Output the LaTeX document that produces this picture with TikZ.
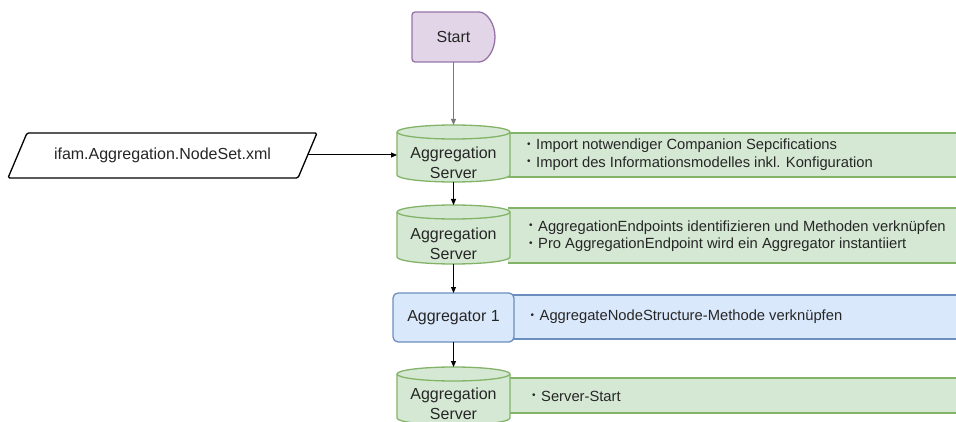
\documentclass[tikz,border=0pt]{standalone}
\usepackage{fontspec}
\setmainfont{Liberation Sans}
\usetikzlibrary{arrows.meta,calc}

\definecolor{grnfill}{HTML}{D5E8D4}
\definecolor{grnline}{HTML}{82B366}
\definecolor{blufill}{HTML}{DAE8FC}
\definecolor{bluline}{HTML}{6C8EBF}
\definecolor{purfill}{HTML}{E1D5E7}
\definecolor{purline}{HTML}{9673A6}
\definecolor{txtcol}{HTML}{262626}
\definecolor{arrgray}{HTML}{7A7A7A}

% small list bullet
\newcommand\blt{\makebox[9pt][l]{\raisebox{2.2pt}{\fontsize{10}{10}\selectfont •}}}

% cylinder outline drawn around an (invisible) boundary node
\newcommand\cylbody[1]{%
  \filldraw[cylline] ([yshift=-7pt]#1.north west) -- ([yshift=7pt]#1.south west)
    arc[start angle=180,end angle=360,x radius=56.5pt,y radius=7pt]
    -- ([yshift=-7pt]#1.north east)
    arc[start angle=0,end angle=180,x radius=56.5pt,y radius=7pt] -- cycle;
  \draw[cylline,fill=none] ([yshift=-7pt]#1.north west)
    arc[start angle=180,end angle=360,x radius=56.5pt,y radius=7pt];}

% border of a description bar, open on the side tucked under its shape
\newcommand\barrim[2]{%
  \draw[#2, line width=1.3pt] (#1.north west) -- (#1.north east) -- (#1.south east) -- (#1.south west);}

\begin{document}
\begin{tikzpicture}[x=1pt,y=1pt,
  every node/.style={text=txtcol},
  lbl/.style={font=\fontsize{16}{20}\selectfont, align=center, inner sep=0pt},
  itemtxt/.style={font=\fontsize{14.75}{17.5}\selectfont, align=left, inner sep=0pt, anchor=west},
  bound/.style={inner sep=0pt, outer sep=0pt, minimum width=113pt},
  cylline/.style={draw=grnline, fill=grnfill, line width=1.3pt},
  barbase/.style={anchor=south west, inner sep=0pt, outer sep=0pt},
  greenbar/.style={barbase, fill=grnfill},
  bluebar/.style={barbase, fill=blufill},
  flow/.style={line width=1pt, -{Triangle[length=6pt,width=5pt]}}]

\useasboundingbox (0,0) rectangle (956,421);

% description bars (behind the process shapes)
\node[greenbar, minimum width=452pt, minimum height=44pt] (bar1) at (508,244) {};
\barrim{bar1}{grnline}
\node[greenbar, minimum width=452pt, minimum height=55pt] (bar2) at (508,158) {};
\barrim{bar2}{grnline}
\node[bluebar,  minimum width=448pt, minimum height=44pt] (bar3) at (512,82) {};
\barrim{bar3}{bluline}
\node[greenbar, minimum width=452pt, minimum height=35pt] (bar4) at (508,8) {};
\barrim{bar4}{grnline}

% start terminal
\filldraw[draw=purline, fill=purfill, line width=1.3pt, rounded corners=3pt]
  (412,409) -- (476,409) arc[start angle=90,end angle=-90,x radius=19pt,y radius=25pt]
  -- (412,359) -- cycle;
\node[lbl, minimum width=83pt, minimum height=50pt, outer sep=0pt] (start) at (453.5,384) {Start};

% input file
\filldraw[draw=black, fill=white, line width=1.3pt, rounded corners=1.5pt]
  (8,243) -- (27,288) -- (317,288) -- (298,243) -- cycle;
\node[lbl, minimum width=290pt, minimum height=45pt, outer sep=0pt] (nodeset) at (162.5,266) {ifam.Aggregation.NodeSet.xml};

% server stages
\node[bound, minimum height=57pt] (srv1) at (453.5,267.5) {};
\cylbody{srv1}
\node[lbl] (srv1-label) at ([yshift=-9.5pt]srv1.center) {Aggregation\\Server};

\node[bound, minimum height=59pt] (srv2) at (453.5,186.5) {};
\cylbody{srv2}
\node[lbl] (srv2-label) at ([yshift=-9.5pt]srv2.center) {Aggregation\\Server};

\node[lbl, draw=bluline, fill=blufill, line width=1.3pt, rounded corners=5pt,
  minimum width=121pt, minimum height=49pt, outer sep=0pt] (agg) at (453.5,103.5) {Aggregator 1};

\node[bound, minimum height=58pt] (srv3) at (453.5,25) {};
\cylbody{srv3}
\node[lbl] (srv3-label) at ([yshift=-7.5pt]srv3.center) {Aggregation\\Server};

% descriptions
\node[itemtxt] (txt1) at (527,266.5) {\blt Import notwendiger Companion Sepcifications\\
  \blt Import des Informationsmodelles inkl. Konfiguration};
\node[itemtxt] (txt2) at (529,185) {\blt AggregationEndpoints identifizieren und Methoden verknüpfen\\
  \blt Pro AggregationEndpoint wird ein Aggregator instantiiert};
\node[itemtxt] (txt3) at (530.5,104) {\blt AggregateNodeStructure-Methode verknüpfen};
\node[itemtxt] (txt4) at (532,25) {\blt Server-Start};

% flow
\draw[flow, draw=arrgray] (start.south) -- (srv1.north);
\draw[flow] (nodeset.east) -- (nodeset.east -| srv1.west);
\draw[flow] (srv1.south) -- (srv2.north);
\draw[flow] (srv2.south) -- (agg.north);
\draw[flow] (agg.south) -- (srv3.north);

\end{tikzpicture}
\end{document}
